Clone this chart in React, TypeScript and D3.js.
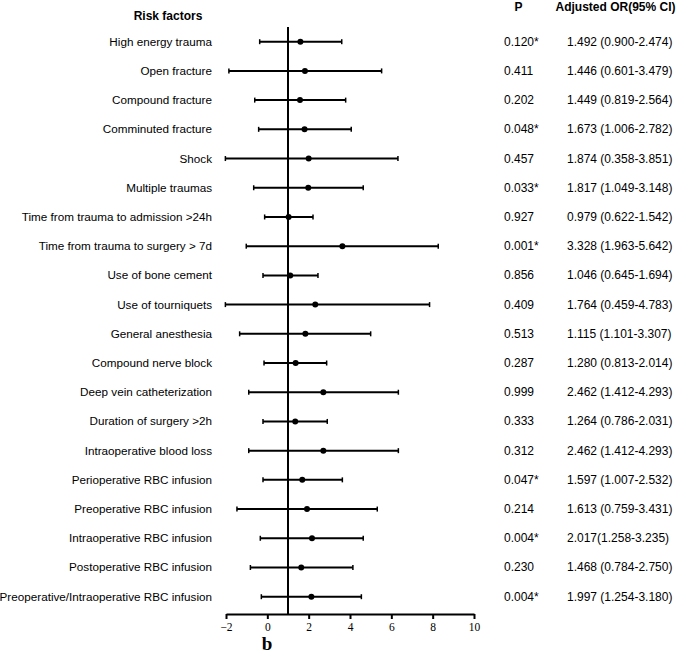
import React from "react";
import * as d3 from "d3";

const factors = [
  "High energy trauma",
  "Open fracture",
  "Compound fracture",
  "Comminuted fracture",
  "Shock",
  "Multiple traumas",
  "Time from trauma to admission >24h",
  "Time from trauma to surgery > 7d",
  "Use of bone cement",
  "Use of tourniquets",
  "General anesthesia",
  "Compound nerve block",
  "Deep vein catheterization",
  "Duration of surgery >2h",
  "Intraoperative blood loss",
  "Perioperative RBC infusion",
  "Preoperative RBC infusion",
  "Intraoperative RBC infusion",
  "Postoperative RBC infusion",
  "Preoperative/Intraoperative RBC infusion",
];

// plotted estimates as drawn in the picture
const pointEst = [1.6, 1.82, 1.58, 1.8, 2.0, 1.98, 1.03, 3.63, 1.11, 2.32, 1.84, 1.37, 2.71, 1.35, 2.71, 1.69, 1.92, 2.16, 1.64, 2.13];
const lowerCI = [-0.37, -1.86, -0.61, -0.42, -2.03, -0.66, -0.13, -1.02, -0.21, -2.03, -1.34, -0.16, -0.9, -0.21, -0.9, -0.21, -1.47, -0.34, -0.82, -0.29];
const upperCI = [3.6, 5.53, 3.79, 4.06, 6.32, 4.64, 2.21, 8.27, 2.45, 7.85, 5.0, 2.87, 6.34, 2.9, 6.34, 3.63, 5.32, 4.64, 4.14, 4.55];

const pValues = [
  "0.120*", "0.411", "0.202", "0.048*", "0.457", "0.033*", "0.927", "0.001*", "0.856", "0.409",
  "0.513", "0.287", "0.999", "0.333", "0.312", "0.047*", "0.214", "0.004*", "0.230", "0.004*",
];
const orTexts = [
  "1.492 (0.900-2.474)",
  "1.446 (0.601-3.479)",
  "1.449 (0.819-2.564)",
  "1.673 (1.006-2.782)",
  "1.874 (0.358-3.851)",
  "1.817 (1.049-3.148)",
  "0.979 (0.622-1.542)",
  "3.328 (1.963-5.642)",
  "1.046 (0.645-1.694)",
  "1.764 (0.459-4.783)",
  "1.115 (1.101-3.307)",
  "1.280 (0.813-2.014)",
  "2.462 (1.412-4.293)",
  "1.264 (0.786-2.031)",
  "2.462 (1.412-4.293)",
  "1.597 (1.007-2.532)",
  "1.613 (0.759-3.431)",
  "2.017(1.258-3.235)",
  "1.468 (0.784-2.750)",
  "1.997 (1.254-3.180)",
];
const xTicks = [-2, 0, 2, 4, 6, 8, 10];
const refValue = 1;

const W = 685;
const H = 654;

export default function App() {
  const x = d3.scaleLinear().domain([-2, 10]).range([226, 474]);
  const y = d3.scalePoint<string>().domain(factors).range([41.7, 596.7]);
  const axisY = 614;
  const sans = "'Liberation Sans', Arial, sans-serif";
  const serif = "'Liberation Serif', 'Times New Roman', serif";

  const axisRef = React.useRef<SVGGElement>(null);
  React.useEffect(() => {
    if (!axisRef.current) return;
    const g = d3.select(axisRef.current);
    g.selectAll("*").remove();
    g.call(
      d3.axisBottom(x).tickValues(xTicks).tickSize(5).tickSizeOuter(0).tickPadding(4)
    );
    g.select(".domain").attr("stroke", "#000").attr("stroke-width", 2);
    g.selectAll(".tick line").attr("stroke", "#000").attr("stroke-width", 2);
    g.selectAll(".tick text")
      .attr("font-family", serif)
      .attr("font-size", 11.5)
      .attr("fill", "#000");
  }, []);

  return (
    <svg
      width={W}
      height={H}
      style={{ position: "absolute", left: 0, top: 0, background: "#fff" }}
    >
      <rect width={W} height={H} fill="#fff" />
      <text x={168} y={19.5} textAnchor="middle" fontFamily={sans} fontWeight="bold" fontSize={12}>
        Risk factors
      </text>
      <text x={518.5} y={11} textAnchor="middle" fontFamily={sans} fontWeight="bold" fontSize={12}>
        P
      </text>
      <text x={555.5} y={11} fontFamily={sans} fontWeight="bold" fontSize={12}>
        Adjusted OR(95% CI)
      </text>

      <line x1={x(refValue)} x2={x(refValue)} y1={27} y2={axisY} stroke="#000" strokeWidth={2} />

      {factors.map((f, i) => {
        const yy = y(f)!;
        return (
          <g key={f}>
            <text x={212} y={yy + 4} textAnchor="end" fontFamily={sans} fontSize={11.7} fill="#000">
              {f}
            </text>
            <line x1={x(lowerCI[i])} x2={x(upperCI[i])} y1={yy} y2={yy} stroke="#000" strokeWidth={2} />
            <line x1={x(lowerCI[i])} x2={x(lowerCI[i])} y1={yy - 2.5} y2={yy + 2.5} stroke="#000" strokeWidth={1.5} />
            <line x1={x(upperCI[i])} x2={x(upperCI[i])} y1={yy - 2.5} y2={yy + 2.5} stroke="#000" strokeWidth={1.5} />
            <circle cx={x(pointEst[i])} cy={yy} r={3} fill="#000" />
            <text x={504} y={yy + 4} fontFamily={sans} fontSize={12} fill="#000">
              {pValues[i]}
            </text>
            <text x={567} y={yy + 4} fontFamily={sans} fontSize={12} fill="#000">
              {orTexts[i]}
            </text>
          </g>
        );
      })}

      <g ref={axisRef} transform={`translate(0,${axisY})`} />

      <text x={267} y={650} textAnchor="middle" fontFamily={serif} fontWeight="bold" fontSize={19}>
        b
      </text>
    </svg>
  );
}
